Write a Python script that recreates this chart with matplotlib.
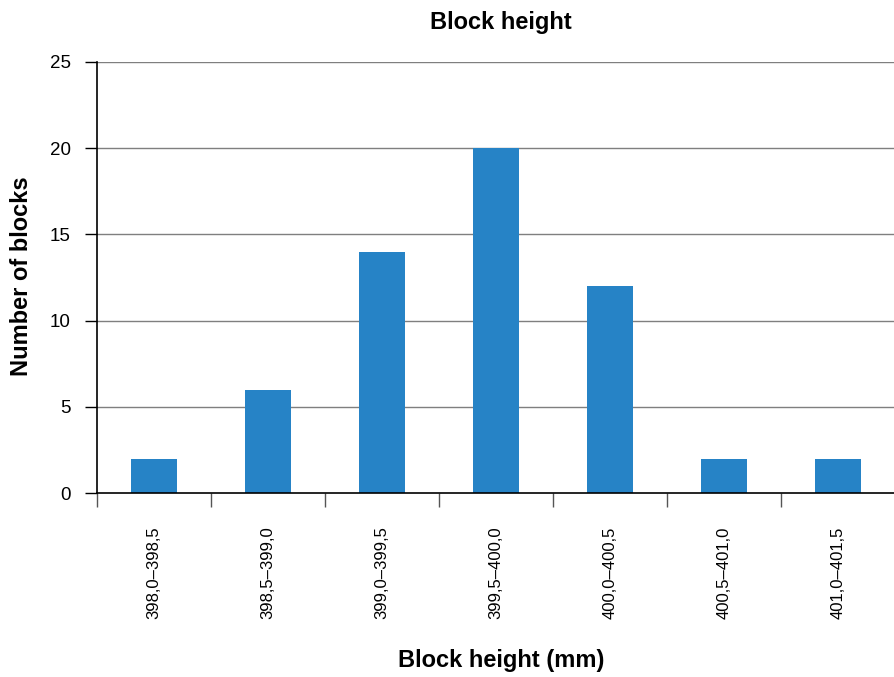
import matplotlib.pyplot as plt
import numpy as np

plt.rcParams["font.family"] = ["Liberation Sans", "DejaVu Sans"]

BINS = ["398,0–398,5", "398,5–399,0", "399,0–399,5", "399,5–400,0",
        "400,0–400,5", "400,5–401,0", "401,0–401,5"]
COUNTS = [2, 6, 14, 20, 12, 2, 2]
Y_TICKS = [0, 5, 10, 15, 20, 25]

BAR_COLOR = "#2683C6"


def main():
    fig = plt.figure(figsize=(8.95, 6.77), dpi=100)
    ax = fig.add_axes([97 / 895, 1 - 493 / 677, 798 / 895, (493 - 62) / 677])

    x = np.arange(len(BINS))
    ax.bar(x, COUNTS, width=0.4, color=BAR_COLOR, zorder=3)

    ax.set_xlim(-0.5, len(BINS) - 0.5)
    ax.set_ylim(0, 25)
    ax.set_yticks(Y_TICKS)
    for t in Y_TICKS[1:]:
        ax.axhline(t, color="#7f7f7f", linewidth=1.0, zorder=1)

    # category labels sit between boundary ticks
    ax.set_xticks(x)
    ax.set_xticklabels(BINS, rotation=90, fontsize=12)
    ax.tick_params(axis="x", length=0, pad=24)
    ax.set_xticks(np.arange(len(BINS) + 1) - 0.5, minor=True)
    ax.tick_params(axis="x", which="minor", length=10, width=1, color="#555555")
    ax.tick_params(axis="y", labelsize=13.5, length=9, width=1, direction="out", pad=10)

    for side in ("top", "right"):
        ax.spines[side].set_visible(False)
    ax.spines["left"].set_linewidth(1.2)
    ax.spines["bottom"].set_linewidth(1.2)
    ax.spines["left"].set_zorder(4)
    ax.spines["bottom"].set_zorder(4)

    fig.text(501 / 895, 1 - 22 / 677, "Block height", ha="center", va="center",
             fontsize=17, fontweight="bold")
    fig.text(501 / 895, 1 - 660 / 677, "Block height (mm)", ha="center", va="center",
             fontsize=17, fontweight="bold")
    fig.text(22 / 895, 1 - 276 / 677, "Number of blocks", ha="center", va="center",
             rotation=90, fontsize=17, fontweight="bold")

    fig.savefig("out.png", dpi=100)
    plt.close(fig)


if __name__ == "__main__":
    main()
